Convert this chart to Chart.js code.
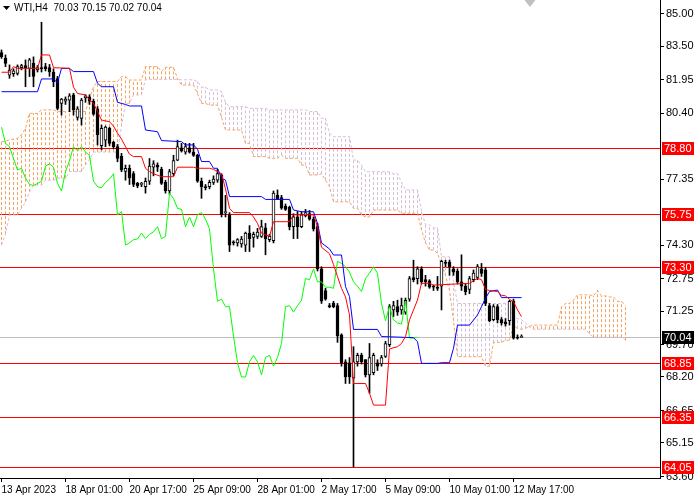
<!DOCTYPE html>
<html>
<head>
<meta charset="utf-8">
<script src="https://cdn.jsdelivr.net/npm/chart.js@4.4.0/dist/chart.umd.min.js"></script>
<style>
  html, body { margin: 0; padding: 0; background: #fff; }
  #wrap { width: 700px; height: 500px; position: relative; }
</style>
</head>
<body>
<div id="wrap"><canvas id="wtiChart"></canvas></div>
<script>
// WTI H4 candles, bar index 0 = 13 Apr 2023
const opens = [
  83.20, 82.95, 82.15, 82.22, 82.24, 82.50, 82.60, 82.47, 82.70, 82.40,
  82.50, 82.55, 82.50, 82.30, 82.00, 80.85, 80.95, 81.00, 81.25, 80.20,
  80.15, 81.10, 81.15, 80.95, 80.60, 78.90, 79.15, 79.70, 79.05, 78.85,
  78.40, 77.70, 77.85, 77.60, 77.15, 77.10, 77.00, 77.25, 77.90, 78.00,
  77.80, 77.20, 76.80, 77.60, 78.23, 78.80, 78.60, 78.80, 78.60, 78.45,
  77.25, 77.00, 77.00, 77.20, 77.30, 77.55, 75.80, 75.70, 74.45, 74.40,
  74.35, 74.30, 74.85, 74.65, 74.70, 74.70, 75.10, 74.55, 74.50, 76.60,
  76.50, 76.10, 76.05, 75.15, 75.60, 75.15, 75.65, 75.75, 75.50, 75.15,
  73.20, 72.20, 71.50, 71.60, 71.50, 70.15, 68.90, 68.85, 68.15, 68.90,
  69.20, 69.00, 68.30, 68.40, 68.85, 68.80, 69.15, 69.70, 71.30, 71.45,
  71.30, 71.20, 71.80, 72.80, 72.75, 73.20, 72.70, 72.65, 72.40, 72.35,
  72.40, 73.50, 73.50, 73.20, 73.10, 72.60, 72.40, 72.25, 72.70, 72.80,
  73.20, 73.15, 71.50, 70.85, 71.45, 70.85, 70.75, 70.80, 71.70, 70.05,
  70.03
];
const highs = [
  83.32, 83.09, 82.63, 82.45, 82.63, 82.66, 82.86, 82.93, 83.00, 82.60,
  84.60, 82.70, 82.65, 82.45, 82.10, 81.08, 81.15, 81.30, 81.32, 80.70,
  81.08, 81.25, 81.25, 81.05, 80.70, 79.85, 79.80, 79.75, 79.10, 78.95,
  78.54, 78.00, 78.00, 77.70, 77.20, 77.20, 77.40, 78.30, 78.20, 78.10,
  77.90, 77.30, 77.80, 78.45, 79.15, 79.00, 79.00, 79.00, 79.00, 78.50,
  77.40, 77.10, 77.30, 77.50, 77.80, 77.60, 76.60, 75.80, 74.50, 74.60,
  74.70, 74.90, 75.20, 74.90, 75.07, 75.45, 75.30, 74.80, 76.80, 76.85,
  76.60, 76.20, 76.10, 75.75, 75.85, 75.85, 75.95, 75.90, 75.60, 75.30,
  73.30, 72.30, 71.60, 71.70, 71.60, 70.20, 69.00, 69.10, 69.60, 69.30,
  69.30, 69.00, 69.75, 69.30, 69.00, 69.20, 69.85, 71.55, 71.70, 71.75,
  71.85, 71.85, 72.85, 73.60, 73.30, 73.30, 72.90, 72.70, 72.45, 72.85,
  73.60, 73.60, 73.60, 73.30, 73.20, 73.85, 72.50, 72.85, 73.15, 73.40,
  73.45, 73.25, 71.60, 71.55, 71.55, 70.95, 70.90, 71.75, 71.80, 70.15,
  70.15
];
const lows = [
  82.93, 82.55, 82.01, 82.10, 82.16, 82.40, 81.62, 82.09, 81.62, 82.30,
  82.30, 82.35, 82.10, 81.62, 80.55, 80.31, 80.80, 80.47, 80.31, 80.08,
  79.85, 80.90, 80.80, 80.30, 78.93, 78.70, 78.85, 78.90, 78.75, 78.15,
  77.69, 77.30, 77.10, 77.00, 76.95, 77.00, 76.70, 77.10, 77.50, 77.70,
  77.10, 76.70, 76.65, 77.50, 78.20, 78.60, 78.50, 78.55, 78.40, 77.20,
  76.46, 76.85, 76.90, 77.10, 77.20, 75.60, 75.60, 74.00, 74.30, 74.25,
  74.20, 74.00, 74.00, 74.20, 74.60, 74.65, 73.85, 74.45, 74.40, 76.40,
  75.95, 75.90, 75.00, 74.60, 74.60, 75.10, 75.60, 75.45, 74.95, 73.10,
  71.60, 71.75, 71.40, 71.40, 69.80, 68.70, 67.90, 67.90, 64.05, 68.70,
  68.80, 68.20, 67.45, 68.30, 68.50, 68.70, 69.10, 69.60, 71.00, 71.05,
  71.10, 71.10, 71.70, 72.60, 72.50, 72.50, 72.40, 72.30, 72.20, 72.20,
  71.30, 73.30, 72.90, 72.90, 72.50, 72.20, 72.00, 72.05, 72.60, 72.70,
  72.85, 71.50, 70.75, 70.80, 70.70, 70.60, 70.55, 70.60, 69.95, 69.95,
  70.02
];
const closes = [
  83.00, 82.70, 82.39, 82.35, 82.55, 82.60, 82.48, 82.86, 82.10, 82.50,
  82.45, 82.45, 82.30, 81.85, 80.62, 81.05, 81.05, 81.20, 80.55, 80.60,
  81.00, 81.20, 80.95, 80.35, 79.40, 79.70, 79.75, 79.00, 78.85, 78.30,
  77.77, 77.85, 77.40, 77.10, 77.05, 77.15, 77.25, 77.95, 78.05, 77.90,
  77.15, 76.80, 77.70, 78.20, 78.85, 78.65, 78.85, 78.60, 78.45, 77.25,
  77.00, 76.95, 77.20, 77.35, 77.60, 75.70, 75.85, 74.30, 74.40, 74.55,
  74.58, 74.85, 74.60, 74.80, 74.90, 75.15, 74.60, 74.70, 76.70, 76.45,
  76.00, 75.95, 75.15, 75.60, 75.15, 75.70, 75.80, 75.50, 75.05, 73.20,
  71.70, 71.80, 71.45, 71.45, 70.10, 68.85, 68.20, 68.20, 68.90, 69.20,
  68.90, 68.30, 69.10, 69.20, 68.70, 69.10, 69.75, 71.45, 71.50, 71.20,
  71.50, 71.75, 72.75, 72.70, 73.20, 72.60, 72.60, 72.35, 72.35, 72.30,
  73.55, 73.45, 73.30, 73.05, 72.60, 72.40, 72.15, 72.75, 73.00, 73.30,
  72.99, 71.60, 70.80, 71.45, 70.85, 70.70, 70.65, 71.70, 70.00, 70.00,
  70.04
];

// Ichimoku lines as [bar, price] vertices
const tenkanPts = [
  [0, 82.29], [2, 82.29], [3, 82.55], [4, 82.47], [9, 82.47], [10, 83.09], [12, 83.09],
  [13, 82.50], [17, 82.47], [18, 81.60], [19, 81.31], [21, 81.24], [22, 81.01], [23, 80.85],
  [24, 80.47], [25, 80.08], [27, 80.00], [28, 79.80], [29, 79.47], [30, 79.20], [31, 78.85],
  [32, 78.50], [33, 78.39], [35, 78.39], [36, 77.85], [37, 77.70], [38, 77.60], [40, 77.46],
  [43, 77.46], [44, 77.90], [48, 77.90], [49, 77.85], [52, 77.85], [53, 77.80], [55, 77.60],
  [56, 76.90], [57, 76.00], [58, 75.80], [62, 75.80], [63, 75.60], [64, 75.30], [65, 74.85],
  [67, 74.70], [68, 75.38], [72, 75.38], [73, 75.70], [78, 75.70], [79, 75.15], [80, 74.20],
  [82, 73.90], [83, 73.40], [84, 72.84], [85, 72.30], [86, 71.90], [87, 71.07], [88, 67.90],
  [91, 67.90], [92, 67.45], [93, 66.90], [96, 66.90], [97, 69.50], [99, 69.60], [100, 69.75],
  [101, 70.07], [102, 70.84], [103, 71.30], [104, 71.76], [105, 72.53], [107, 72.53],
  [108, 72.45], [117, 72.53], [118, 72.65], [119, 72.76], [120, 72.70], [121, 72.25],
  [122, 72.20], [124, 72.15], [125, 71.98], [126, 71.95], [127, 71.79], [128, 71.68],
  [129, 71.30], [130, 70.99]
];
const kijunPts = [
  [0, 81.39], [9, 81.39], [10, 81.98], [13, 81.98], [14, 81.80], [15, 82.47], [17, 82.47],
  [18, 82.32], [23, 82.32], [24, 81.78], [25, 81.62], [28, 81.62], [29, 80.90], [31, 80.80],
  [32, 80.73], [35, 80.73], [36, 79.62], [39, 79.54], [40, 79.13], [45, 79.08], [46, 78.93],
  [48, 78.93], [49, 78.73], [50, 78.16], [52, 78.16], [53, 77.85], [54, 77.85], [55, 77.39],
  [56, 77.30], [57, 76.54], [65, 76.54], [66, 76.41], [72, 76.41], [73, 75.92], [75, 75.84],
  [78, 75.84], [79, 75.30], [80, 74.40], [82, 74.12], [83, 73.84], [85, 73.84], [86, 72.38],
  [87, 71.92], [88, 70.40], [94, 70.40], [95, 70.07], [103, 70.02], [104, 69.83], [105, 68.83],
  [109, 68.83], [110, 68.86], [112, 68.86], [113, 69.53], [114, 70.60], [117, 70.60],
  [118, 70.83], [119, 71.07], [120, 71.45], [121, 71.84], [122, 72.15], [124, 72.22],
  [125, 71.87], [130, 71.87]
];
// Senkou spans, one value per bar (shifted 26 bars ahead)
const spanA = [
  79.08, 79.10, 79.16, 79.20, 79.24, 79.40, 79.70, 80.39, 80.39, 80.39,
  80.55, 80.55, 80.55, 80.55, 80.47, 80.47, 80.47, 80.47, 80.47, 80.47,
  80.47, 80.47, 81.08, 81.62, 81.86, 81.86, 81.86, 81.86, 81.86, 81.86,
  82.09, 82.09, 81.93, 81.93, 81.93, 81.93, 82.55, 82.55, 82.55, 82.55,
  82.32, 82.52, 82.52, 82.52, 82.00, 81.70, 81.70, 81.70, 81.70, 81.30,
  80.85, 80.85, 80.77, 80.77, 80.77, 80.20, 79.62, 79.62, 79.62, 79.62,
  79.62, 79.00, 79.00, 78.39, 78.39, 78.39, 78.39, 78.31, 78.31, 78.31,
  78.46, 78.31, 78.31, 78.31, 78.31, 78.00, 78.00, 77.54, 77.54, 77.54,
  77.60, 77.30, 77.00, 76.30, 76.30, 76.30, 76.30, 76.30, 76.00, 76.00,
  75.69, 75.60, 75.60, 75.92, 75.92, 75.92, 75.92, 75.92, 75.92, 75.92,
  75.77, 75.77, 75.77, 75.77, 75.77, 75.00, 74.40, 74.07, 74.07, 73.92,
  73.40, 72.90, 72.20, 70.80, 69.14, 69.14, 69.14, 69.14, 69.14, 69.14,
  69.14, 68.70, 68.70, 69.80, 69.80, 69.80, 69.90, 69.90, 70.55, 70.45,
  70.40, 70.45, 70.55, 70.60, 70.60, 70.60, 70.60, 70.60, 70.60, 70.60,
  71.45, 71.60, 71.60, 71.75, 72.00, 72.00, 72.00, 72.00, 71.95, 72.20,
  71.95, 71.95, 71.90, 71.90, 71.70, 71.70, 71.50
];
const spanB = [
  74.30, 74.80, 75.69, 75.69, 75.69, 76.00, 76.30, 76.75, 77.07, 77.07,
  77.07, 77.30, 77.30, 77.30, 77.39, 77.39, 77.39, 77.70, 77.70, 77.70,
  77.70, 78.00, 78.25, 78.60, 78.60, 78.60, 78.60, 78.60, 78.60, 78.60,
  79.80, 80.85, 80.85, 81.24, 81.24, 81.24, 81.96, 81.96, 81.96, 81.96,
  81.96, 81.96, 81.96, 81.96, 81.96, 81.94, 81.94, 81.94, 81.94, 81.85,
  81.60, 81.60, 81.47, 81.47, 81.47, 81.39, 80.90, 80.70, 80.70, 80.70,
  80.70, 80.70, 80.62, 80.62, 80.62, 80.62, 80.62, 80.55, 80.55, 80.55,
  80.55, 80.55, 80.55, 80.55, 80.55, 80.55, 80.55, 80.47, 80.47, 80.47,
  80.16, 80.16, 79.47, 79.31, 79.31, 79.31, 79.31, 79.31, 78.23, 78.23,
  78.00, 77.69, 77.69, 77.69, 77.69, 77.69, 77.69, 77.69, 77.60, 77.60,
  77.20, 76.85, 76.85, 76.85, 76.85, 75.90, 75.23, 75.23, 75.10, 75.10,
  73.76, 73.76, 73.76, 72.60, 71.60, 71.60, 71.60, 71.60, 71.60, 71.60,
  71.60, 71.60, 71.60, 71.60, 71.60, 71.60, 71.60, 71.60, 70.90, 70.90,
  70.85, 70.70, 70.50, 70.41, 70.41, 70.41, 70.41, 70.41, 70.41, 70.41,
  70.41, 70.41, 70.41, 70.41, 70.41, 70.41, 70.41, 70.20, 70.04, 70.04,
  70.04, 70.04, 70.04, 70.04, 70.04, 70.04, 69.90
];
const chikouShift = 26;

// axes and levels
const xTickBars = [0, 16, 32, 48, 64, 80, 96, 112, 128];
const xTickText = ['13 Apr 2023', '18 Apr 01:00', '20 Apr 17:00', '25 Apr 09:00', '28 Apr 01:00',
                   '2 May 17:00', '5 May 09:00', '10 May 01:00', '12 May 17:00'];
const yTickVals = [85.00, 83.50, 81.95, 80.40, 77.35, 74.30, 72.75, 71.25, 69.70, 68.20, 66.65, 65.15, 63.60];
const redLevels = [78.80, 75.75, 73.30, 68.85, 66.35, 64.05];

const FONT = "'Liberation Sans', Arial, sans-serif";
Chart.defaults.font.family = FONT;
Chart.defaults.font.size = 11;
Chart.defaults.color = '#000';

// cloud drawn like MT4 does it: one dotted vertical stroke per bar between the spans
function cloudBars(upper) {
    const pts = [];
    spanA.forEach((a, i) => {
        const b = spanB[i];
        if ((a >= b) === upper) {
            pts.push({ x: i, y: Math.min(a, b) }, { x: i, y: Math.max(a, b) }, { x: i, y: null });
        }
    });
    return pts;
}

const last = opens.length - 1;

// horizontal lines behind the bars
const levelLines = {
    id: 'levelLines',
    beforeDatasetsDraw(chart) {
        const { ctx, chartArea, scales } = chart;
        ctx.save();
        ctx.lineWidth = 1;
        const line = (v, col) => {
            const y = Math.round(scales.y.getPixelForValue(v)) + 0.5;
            ctx.strokeStyle = col;
            ctx.beginPath();
            ctx.moveTo(chartArea.left, y);
            ctx.lineTo(chartArea.right, y);
            ctx.stroke();
        };
        line(closes[last], '#C0C0C0');
        redLevels.forEach(v => line(v, '#FF0000'));
        ctx.restore();
    }
};

// price tags, header text, shift marker
const overlay = {
    id: 'overlay',
    afterDraw(chart) {
        const { ctx, chartArea, scales } = chart;
        ctx.save();
        ctx.font = '11px ' + FONT;
        ctx.textBaseline = 'middle';
        ctx.textAlign = 'left';
        const tag = (v, bg) => {
            const y = Math.round(scales.y.getPixelForValue(v));
            ctx.fillStyle = bg;
            ctx.fillRect(chartArea.right + 2, y - 6, 32, 13);
            ctx.fillStyle = '#fff';
            ctx.fillText(v.toFixed(2), chartArea.right + 4, y + 1);
        };
        redLevels.forEach(v => tag(v, '#FF0000'));
        tag(closes[last], '#000');

        // header
        ctx.fillStyle = '#000';
        ctx.beginPath();
        ctx.moveTo(3, 6); ctx.lineTo(10, 6); ctx.lineTo(6.5, 10); ctx.closePath();
        ctx.fill();
        ctx.font = '10px ' + FONT;
        ctx.fillText('WTI,H4  ' + [opens[last], highs[last], lows[last], closes[last]].map(v => v.toFixed(2)).join(' '), 14, 8);

        // chart shift marker
        const sx = scales.x.getPixelForValue(last) + 4;
        ctx.fillStyle = '#C0C0C0';
        ctx.beginPath();
        ctx.moveTo(sx - 1, 0); ctx.lineTo(sx + 10, 0); ctx.lineTo(sx + 4.5, 7); ctx.closePath();
        ctx.fill();
        ctx.restore();
    }
};

const ctx = document.getElementById('wtiChart').getContext('2d');
new Chart(ctx, {
    type: 'line',
    data: {
        datasets: [
            {
                label: 'Tenkan',
                data: tenkanPts.map(([x, y]) => ({ x, y })),
                borderColor: '#FF0000', borderWidth: 1, pointRadius: 0, order: 0
            },
            {
                label: 'Kijun',
                data: kijunPts.map(([x, y]) => ({ x, y })),
                borderColor: '#0000FF', borderWidth: 1, pointRadius: 0, order: 0
            },
            {
                label: 'Chikou',
                data: closes.slice(chikouShift).map((c, k) => ({ x: k, y: c })),
                borderColor: '#00FF00', borderWidth: 1, pointRadius: 0, order: 0
            },
            {
                type: 'bar',
                label: 'Wicks',
                data: highs.map((h, i) => ({ x: i, y: [lows[i], h] })),
                backgroundColor: '#000', borderWidth: 0,
                barThickness: 1, grouped: false, order: 2
            },
            {
                type: 'bar',
                label: 'Bodies',
                data: opens.map((o, i) => ({ x: i, y: [o, closes[i]] })),
                backgroundColor: opens.map((o, i) => closes[i] >= o ? '#FFFFFF' : '#000000'),
                borderColor: '#000', borderWidth: 1, borderSkipped: false,
                barThickness: 3, minBarLength: 1, grouped: false, order: 1
            },
            {
                label: 'Senkou A',
                data: spanA.map((v, i) => ({ x: i, y: v })),
                borderColor: '#F4A460', borderWidth: 1, borderDash: [3, 2],
                pointRadius: 0, fill: false, order: 3
            },
            {
                label: 'Senkou B',
                data: spanB.map((v, i) => ({ x: i, y: v })),
                borderColor: '#D8BFD8', borderWidth: 1, borderDash: [3, 2],
                pointRadius: 0, fill: false, order: 3
            },
            {
                label: 'Cloud up',
                data: cloudBars(true),
                borderColor: '#F4A460', borderWidth: 1, borderDash: [3, 2],
                pointRadius: 0, spanGaps: false, fill: false, order: 4
            },
            {
                label: 'Cloud down',
                data: cloudBars(false),
                borderColor: '#D8BFD8', borderWidth: 1, borderDash: [3, 2],
                pointRadius: 0, spanGaps: false, fill: false, order: 4
            }
        ]
    },
    options: {
        responsive: true,
        maintainAspectRatio: false,
        animation: false,
        events: [],
        layout: { padding: 0 },
        plugins: { legend: { display: false }, tooltip: { enabled: false } },
        scales: {
            x: {
                type: 'linear',
                min: -0.375,
                max: 164.625,
                offset: false,
                grid: { display: true, drawOnChartArea: false, drawTicks: true, tickLength: 4, color: '#000', offset: false },
                border: { display: true, color: '#000' },
                ticks: {
                    autoSkip: false, maxRotation: 0, align: 'start', padding: 2,
                    font: { size: 10 },
                    callback: (v, i) => xTickText[i]
                },
                afterBuildTicks: s => { s.ticks = xTickBars.map(v => ({ value: v })); },
                afterFit: s => { s.height = 22; s.paddingLeft = 0; s.paddingRight = 0; }
            },
            y: {
                position: 'right',
                min: 63.53,
                max: 85.63,
                grid: { display: true, drawOnChartArea: false, drawTicks: true, tickLength: 4, color: '#000' },
                border: { display: true, color: '#000' },
                ticks: { padding: 2, callback: v => v.toFixed(2) },
                afterBuildTicks: s => { s.ticks = yTickVals.map(v => ({ value: v })); },
                afterFit: s => { s.width = 40; s.paddingTop = 0; s.paddingBottom = 0; }
            }
        }
    },
    plugins: [levelLines, overlay]
});
</script>
</body>
</html>
